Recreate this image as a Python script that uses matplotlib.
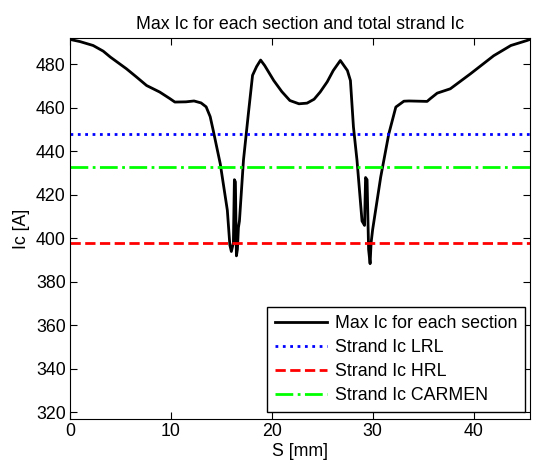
import matplotlib
matplotlib.use("Agg")
import matplotlib.pyplot as plt

plt.rcParams['font.family'] = ['Liberation Sans', 'DejaVu Sans']

# position along strand [mm] and max Ic of each section [A]
s_mm = [0.0, 1.0, 2.3, 3.3, 4.0, 5.6, 6.6, 7.6, 8.9, 9.9, 10.4, 11.5,
        12.3, 13.0, 13.5, 13.9, 14.2, 14.9, 15.6, 15.85, 16.0, 16.2,
        16.3, 16.4, 16.5, 16.6, 16.7, 16.8, 17.2, 17.7, 18.1, 18.5,
        18.9, 19.3, 20.2, 21.0, 21.8, 22.7, 23.5, 24.2, 24.8, 25.5,
        26.1, 26.8, 27.5, 27.8, 28.1, 28.45, 28.95, 29.2, 29.3, 29.45,
        29.6, 29.75, 29.85, 30.0, 30.8, 31.6, 32.3, 33.1, 33.6, 35.4,
        35.7, 36.4, 37.7, 39.7, 42.0, 43.7, 45.3, 45.6]
ic_max = [491.5, 490.5, 488.7, 486.1, 483.4, 478.0, 474.2, 470.3, 467.3,
          464.3, 462.7, 462.8, 463.2, 462.3, 460.5, 456.0, 449.7, 434.3,
          413.0, 397.0, 394.0, 398.0, 427.0, 426.0, 392.0, 395.0, 405.0,
          408.0, 436.0, 458.0, 475.0, 479.0, 482.0, 479.5, 472.6, 467.5,
          463.4, 461.9, 462.2, 464.0, 467.3, 472.0, 477.2, 481.8, 477.2,
          472.6, 451.2, 436.0, 408.0, 406.0, 428.0, 427.0, 395.0, 388.4,
          398.0, 404.0, 428.2, 448.0, 460.4, 463.1, 463.2, 463.0, 464.2,
          466.8, 468.8, 475.7, 484.0, 488.7, 491.0, 491.5]

strand_lrl = 448.0
strand_hrl = 398.0
strand_carmen = 433.0

fs = 12.8

fig = plt.figure(figsize=(5.35, 4.69), dpi=100)
ax = fig.add_axes([0.1307, 0.1066, 0.86, 0.8117])

ax.plot(s_mm, ic_max, color='black', lw=2, label='Max Ic for each section')
ax.axhline(strand_lrl, color='blue', ls=':', lw=2, label='Strand Ic LRL')
ax.axhline(strand_hrl, color='red', ls='--', lw=2, label='Strand Ic HRL')
ax.axhline(strand_carmen, color='#00ff00', ls='-.', lw=2,
           label='Strand Ic CARMEN')

ax.set_xlim(0, 45.6)
ax.set_ylim(317, 492)
ax.set_xticks([0, 10, 20, 30, 40])
ax.set_yticks(range(320, 481, 20))
ax.tick_params(direction='in', top=True, right=True, length=5,
               labelsize=fs, width=0.8, pad=3)
for sp in ax.spines.values():
    sp.set_linewidth(0.8)

ax.set_xlabel('S [mm]', fontsize=fs, labelpad=2)
ax.set_ylabel('Ic [A]', fontsize=fs, labelpad=4)
ax.set_title('Max Ic for each section and total strand Ic', fontsize=fs,
             pad=7)

leg = ax.legend(loc='lower right', bbox_to_anchor=(0.9895, 0.018),
                fontsize=fs, fancybox=False, edgecolor='black',
                framealpha=1, handlelength=2.9, borderpad=0.45,
                labelspacing=0.4, handletextpad=0.45, borderaxespad=0)
leg.get_frame().set_linewidth(1.0)

fig.savefig('out.png', dpi=100)
